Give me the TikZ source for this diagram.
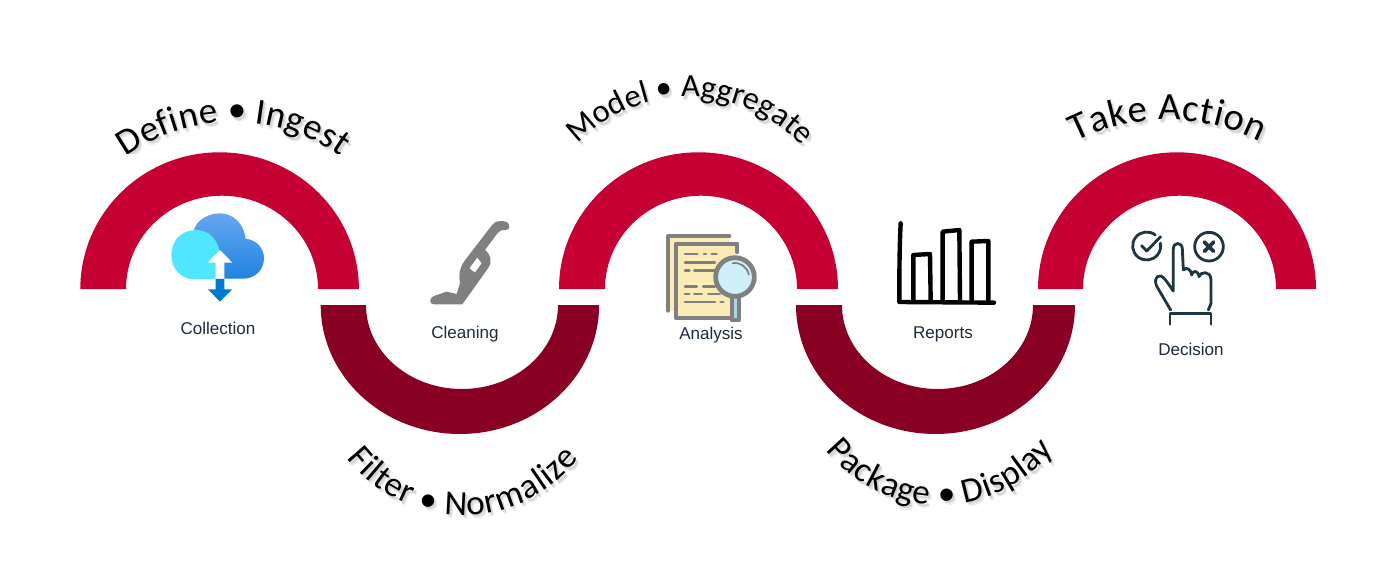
\documentclass[tikz,border=0pt]{standalone}
\usepackage{fontspec}
\setmainfont{Liberation Sans}
\newfontfamily\arcfamily{Carlito}
\usetikzlibrary{decorations.text}

\definecolor{bandred}{HTML}{C50033}
\definecolor{banddark}{HTML}{880022}
\definecolor{labelink}{HTML}{1F2A3C}
\definecolor{cloudtop}{HTML}{66A6F0}
\definecolor{cloudcyan}{HTML}{50E6FF}
\definecolor{cloudlow}{HTML}{1F84DE}
\definecolor{cloudblue}{HTML}{0078D4}
\definecolor{icongray}{HTML}{808080}
\definecolor{paperyellow}{HTML}{FBEBB7}
\definecolor{lensblue}{HTML}{CFF0F9}
\definecolor{handleblue}{HTML}{A8D8E6}
\definecolor{handink}{HTML}{1F3540}

\newcommand{\arclabel}[7][20]{%
  \path[shift={(#2+3,#3-4)},arctext={black!8}{#1}{#7}] (#5:#4) arc[start angle=#5,end angle=#6,radius=#4];
  \path[shift={(#2+2,#3-2.5)},arctext={black!16}{#1}{#7}] (#5:#4) arc[start angle=#5,end angle=#6,radius=#4];
  \path[shift={(#2,#3)},arctext={black}{#1}{#7}] (#5:#4) arc[start angle=#5,end angle=#6,radius=#4];
}

\tikzset{
  arctext/.style n args={3}{decorate,decoration={text along path,text align=fit to path,
    text={|\fontsize{#2}{24}\arcfamily\color{#1}|#3}}},
  toplabel/.style={text=labelink,font=\fontsize{9.7}{12}\selectfont,inner sep=0pt},
  icon/.style={shift={#1},x=0.006667cm,y=-0.006667cm},
  grayline/.style={draw=icongray,line width=2.3pt,line cap=round,line join=round},
  graytext/.style={draw=icongray,line width=1.6pt,line cap=round},
  blackline/.style={draw=black,line width=2.5pt,line cap=round,line join=round},
  handline/.style={draw=handink,line width=1.6pt,line cap=round,line join=round},
}

\begin{document}
\begin{tikzpicture}[x=0.02cm,y=0.02cm]
  \path[use as bounding box,fill=white] (0,0) rectangle (1400,583);

  % upper bands
  \fill[bandred] (80.3,294) arc[start angle=180,end angle=0,x radius=139.3,y radius=136.7]
    -- (318,294) arc[start angle=0,end angle=180,x radius=96,y radius=93.3] -- cycle;
  \fill[bandred] (559,294) arc[start angle=180,end angle=0,x radius=139.5,y radius=136.7]
    -- (797,294) arc[start angle=0,end angle=180,x radius=96,y radius=93.3] -- cycle;
  \fill[bandred] (1038,294) arc[start angle=180,end angle=0,x radius=139,y radius=136.7]
    -- (1276,294) arc[start angle=0,end angle=180,x radius=96.5,y radius=93.3] -- cycle;

  % lower bands
  \fill[banddark] (320.7,278) arc[start angle=180,end angle=360,x radius=139.2,y radius=129]
    -- (558,278) arc[start angle=360,end angle=180,x radius=96,y radius=84] -- cycle;
  \fill[banddark] (796,278) arc[start angle=180,end angle=360,x radius=139.5,y radius=129]
    -- (1033,278) arc[start angle=360,end angle=180,x radius=95.5,y radius=84] -- cycle;

  % curved titles
  \begin{scope}
    \clip (0,430) rectangle (700,583);
    \arclabel[21]{233}{276}{185}{125.5}{54.5}{Define • Ingest}
  \end{scope}
  \arclabel[18.5]{689}{331}{155}{136}{44}{Model • Aggregate}
  \arclabel[22]{1168}{260}{203}{117}{63}{Take Action}
  \arclabel{463}{215}{147}{-142}{-38}{Filter • Normalize}
  \arclabel{940}{225}{147}{-141}{-39}{Package • Display}

  % step labels
  \node[toplabel] (collection) at (218,255) {Collection};
  \node[toplabel] (cleaning) at (465,248.5) {Cleaning};
  \node[toplabel] (analysis) at (711,247.5) {Analysis};
  \node[toplabel] (reports) at (943,248.5) {Reports};
  \node[toplabel] (decision) at (1191,234) {Decision};

  % cloud
  \begin{scope}[icon={(70,503)}]
    \shade[top color=cloudtop,bottom color=cloudlow]
      (372,450) .. controls (380,420) and (415,400) .. (450,400)
      .. controls (490,400) and (522,432) .. (527,476)
      .. controls (560,480) and (582,505) .. (582,535)
      .. controls (582,570) and (555,596) .. (520,596) -- (380,596) -- cycle;
    \fill[cloudcyan] (360,597) .. controls (325,590) and (304,560) .. (304,525)
      .. controls (304,482) and (335,450) .. (378,450)
      .. controls (415,450) and (440,475) .. (448,510) -- (448,597) -- cycle;
    \fill[white] (450,510) -- (487,548) -- (463,548) -- (463,597) -- (437,597) -- (437,548) -- (413,548) -- cycle;
    \fill[cloudblue] (437,597) -- (463,597) -- (463,628) -- (487,628) -- (450,665) -- (414,628) -- (437,628) -- cycle;
  \end{scope}

  % vacuum
  \begin{scope}[icon={(400,383)}]
    \fill[icongray,even odd rule] (320,66) .. controls (310,62) and (288,60) .. (278,73)
      -- (197,178) .. controls (180,200) and (175,220) .. (180,250) -- (170,282) -- (140,275)
      -- (102,288) .. controls (88,293) and (86,313) .. (102,313) -- (187,313) -- (264,205)
      .. controls (277,185) and (274,165) .. (255,150) -- (293,99)
      .. controls (298,91) and (305,90) .. (318,90) .. controls (331,90) and (331,71) .. (320,66) -- cycle
      (232,172) -- (245,190) -- (225,218) -- (208,205) -- cycle;
  \end{scope}

  % documents and lens
  \begin{scope}[icon={(660,355)}]
    \fill[paperyellow] (25,23) rectangle (208,248);
    \draw[grayline] (208,25) -- (25,25) -- (25,248);
    \fill[paperyellow] (48,47) rectangle (232,270);
    \draw[grayline] (232,72) -- (232,47) -- (48,47) -- (48,270) -- (212,270);
    \draw[graytext] (75,78) -- (112,78) (132,78) -- (138,78) (155,78) -- (170,78);
    \draw[graytext] (75,103) -- (165,103);
    \draw[graytext] (75,128) -- (88,128) (103,128) -- (165,128);
    \draw[graytext] (75,175) -- (110,175) (130,175) -- (165,175);
    \draw[graytext] (75,198) -- (88,198) (103,198) -- (125,198) (145,198) -- (180,198);
    \draw[graytext] (75,222) -- (165,222) (182,222) -- (190,222);
    \draw[grayline,fill=handleblue] (215,200) -- (215,275) -- (238,275) -- (238,200) -- cycle;
    \draw[grayline,line width=2.7pt,fill=lensblue] (225,147) circle[radius=58];
    \draw[draw=icongray,line width=1pt,dash pattern=on 14 off 9,line cap=round] (225,147) ++(-10:42) arc[start angle=-10,end angle=-100,radius=42];
  \end{scope}

  % bar chart
  \begin{scope}[icon={(880,383)}]
    \draw[blackline] (62,70) .. controls (58,150) and (58,230) .. (58,306) -- (342,308);
    \draw[blackline] (100,300) -- (100,165) -- (150,162) -- (152,300);
    \draw[blackline] (188,300) -- (188,95) -- (238,90) -- (240,300);
    \draw[blackline] (275,300) -- (275,125) -- (325,123) -- (325,300);
  \end{scope}

  % hand with check and cross
  \begin{scope}[icon={(1125,358)}]
    \draw[handline,shift={(65,63)}] (-52:42) arc[start angle=-52,end angle=-372,radius=42];
    \draw[handline] (50,62) -- (65,78) -- (107,35);
    \draw[handline] (252,65) circle[radius=43];
    \draw[handline,line width=2.1pt] (238,51) -- (266,79) (266,51) -- (238,79);
    \draw[handline] (137,255) -- (100,192) .. controls (85,170) and (92,150) .. (107,153)
      .. controls (118,155) and (135,185) .. (145,198) -- (145,72)
      .. controls (145,50) and (172,50) .. (172,72) -- (175,135)
      .. controls (185,125) and (198,132) .. (200,150)
      .. controls (202,135) and (220,135) .. (222,155)
      .. controls (225,140) and (258,135) .. (258,165) -- (258,235) -- (250,255);
    \draw[handline] (135,298) -- (135,265) -- (258,265) -- (258,298);
  \end{scope}
\end{tikzpicture}
\end{document}
